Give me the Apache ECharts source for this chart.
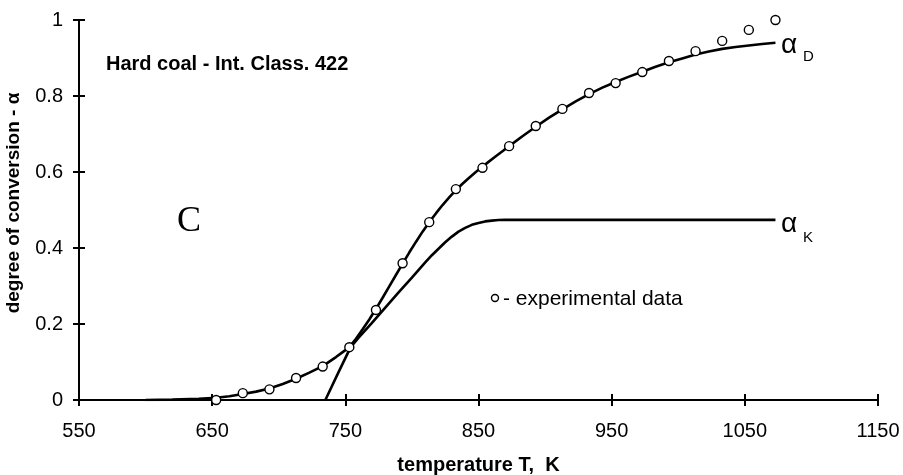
<!DOCTYPE html>
<html>
<head>
<meta charset="utf-8">
<script src="https://cdn.jsdelivr.net/npm/echarts@6/dist/echarts.min.js"></script>
<style>html,body{margin:0;padding:0;background:#fff;}#c{width:903px;height:475px;}</style>
</head>
<body>
<div id="c"></div>
<script>
// Experimental data (T in K, degree of conversion)
const expT = [653, 673, 693, 713, 733, 753, 773, 793, 813, 833, 853, 873, 893, 913, 933, 953, 973, 993, 1013, 1033, 1053, 1073];
const expAlpha = [0.0, 0.018, 0.028, 0.058, 0.088, 0.139, 0.237, 0.360, 0.468, 0.555, 0.611, 0.668, 0.721, 0.766, 0.808, 0.834, 0.863, 0.892, 0.918, 0.945, 0.974, 1.0];

// Model curve alpha_D
const dT = [600, 620, 640, 653, 663, 673, 683, 693, 703, 713, 723, 733, 743, 748, 753, 758, 763, 768, 773, 778, 783, 788, 793, 798, 803, 808, 813, 818, 823, 828, 833, 838, 843, 848, 853, 858, 863, 868, 873, 883, 893, 903, 913, 923, 933, 943, 953, 963, 973, 983, 993, 1003, 1013, 1023, 1033, 1043, 1053, 1063, 1073];
const dAlpha = [0, 0.001, 0.003, 0.006, 0.010, 0.016, 0.022, 0.030, 0.042, 0.056, 0.072, 0.089, 0.113, 0.126, 0.139, 0.161, 0.186, 0.212, 0.240, 0.269, 0.299, 0.329, 0.359, 0.388, 0.416, 0.443, 0.468, 0.491, 0.513, 0.533, 0.552, 0.569, 0.585, 0.600, 0.614, 0.628, 0.6415, 0.6548, 0.668, 0.694, 0.719, 0.743, 0.765, 0.786, 0.805, 0.822, 0.837, 0.851, 0.864, 0.877, 0.889, 0.899, 0.909, 0.917, 0.924, 0.929, 0.933, 0.937, 0.940];

// Model curve alpha_K
const kT = [735, 745, 754, 760, 770, 780, 790, 800, 810, 815, 820, 825, 830, 835, 840, 845, 850, 855, 860, 865, 870, 880, 1073];
const kAlpha = [0, 0.074, 0.139, 0.164, 0.203, 0.243, 0.283, 0.322, 0.362, 0.381, 0.398, 0.415, 0.430, 0.443, 0.453, 0.461, 0.466, 0.470, 0.472, 0.4735, 0.474, 0.474, 0.474];

// Axis ticks
const xTicks = [550, 650, 750, 850, 950, 1050, 1150];
const yTicks = [0, 0.2, 0.4, 0.6, 0.8, 1];

const zip = (a, b) => a.map((v, i) => [v, b[i]]);

const chart = echarts.init(document.getElementById('c'), null, {renderer: 'canvas'});
const F = 'Liberation Sans, Arial, sans-serif';
const axisColor = '#000';

chart.setOption({
  animation: false,
  backgroundColor: '#fff',
  grid: {left: 79, right: 25, top: 20, bottom: 75, containLabel: false, outerBoundsMode: 'none'},
  xAxis: [{
    type: 'value', min: 550, max: 1150, position: 'bottom',
    name: 'temperature T,  K', nameLocation: 'middle', nameGap: 55,
    nameTextStyle: {fontFamily: F, fontSize: 20, fontWeight: 'bold', color: '#000'},
    axisLine: {show: true, onZero: false, lineStyle: {color: axisColor, width: 2}},
    axisTick: {show: true, inside: false, length: 6, lineStyle: {color: axisColor, width: 2}, customValues: xTicks},
    axisLabel: {show: true, margin: 21, fontFamily: F, fontSize: 20, color: '#000', customValues: xTicks, formatter: v => String(v)},
    splitLine: {show: false}
  }, {
    type: 'value', min: 550, max: 1150, position: 'bottom',
    axisLine: {show: false},
    axisTick: {show: true, inside: true, length: 6, lineStyle: {color: axisColor, width: 2}, customValues: xTicks},
    axisLabel: {show: false},
    splitLine: {show: false}
  }],
  yAxis: [{
    type: 'value', min: 0, max: 1, interval: 0.2, position: 'left',
    axisLine: {show: true, onZero: false, lineStyle: {color: axisColor, width: 2}},
    axisTick: {show: true, inside: false, length: 6, lineStyle: {color: axisColor, width: 2}},
    axisLabel: {show: true, margin: 16, fontFamily: F, fontSize: 20, color: '#000',
      formatter: v => String(+v.toFixed(1))},
    splitLine: {show: false}
  }, {
    type: 'value', min: 0, max: 1, interval: 0.2, position: 'left',
    axisLine: {show: false},
    axisTick: {show: true, inside: true, length: 6, lineStyle: {color: axisColor, width: 2}},
    axisLabel: {show: false},
    splitLine: {show: false}
  }],
  series: [{
    name: 'alpha_D', type: 'line', data: zip(dT, dAlpha), showSymbol: false, symbol: 'none',
    smooth: false,
    lineStyle: {color: '#000', width: 2.6}, z: 3
  }, {
    name: 'alpha_K', type: 'line', data: zip(kT, kAlpha), showSymbol: false, symbol: 'none',
    smooth: false,
    lineStyle: {color: '#000', width: 2.6}, z: 3
  }, {
    name: 'experimental data', type: 'scatter', data: zip(expT, expAlpha),
    symbol: 'circle', symbolSize: 9,
    itemStyle: {color: '#fff', borderColor: '#000', borderWidth: 1.4, opacity: 1}, z: 5
  }],
  graphic: [
    {type: 'text', x: 14, y: 203, rotation: Math.PI / 2,
      style: {text: 'degree of conversion - α', font: 'bold 19px ' + F, fill: '#000', align: 'center', verticalAlign: 'middle'}},
    {type: 'text', left: 106, top: 54, style: {text: 'Hard coal - Int. Class. 422', font: 'bold 20px ' + F, fill: '#000'}},
    {type: 'text', x: 189, y: 222, style: {text: 'C', font: '36px Liberation Serif, Times New Roman, serif', fill: '#000', align: 'center', verticalAlign: 'middle'}},
    {type: 'circle', shape: {cx: 495, cy: 298, r: 3.5}, style: {fill: '#fff', stroke: '#000', lineWidth: 1.4}},
    {type: 'text', x: 503, y: 299, style: {text: '- experimental data', font: '21px ' + F, fill: '#000', verticalAlign: 'middle'}},
    {type: 'text', x: 781, y: 45, style: {text: 'α', font: '28px ' + F, fill: '#000', verticalAlign: 'middle'}},
    {type: 'text', x: 803, y: 57, style: {text: 'D', font: '15px ' + F, fill: '#000', verticalAlign: 'middle'}},
    {type: 'text', x: 781, y: 224, style: {text: 'α', font: '28px ' + F, fill: '#000', verticalAlign: 'middle'}},
    {type: 'text', x: 803, y: 238, style: {text: 'K', font: '15px ' + F, fill: '#000', verticalAlign: 'middle'}}
  ]
});
</script>
</body>
</html>
